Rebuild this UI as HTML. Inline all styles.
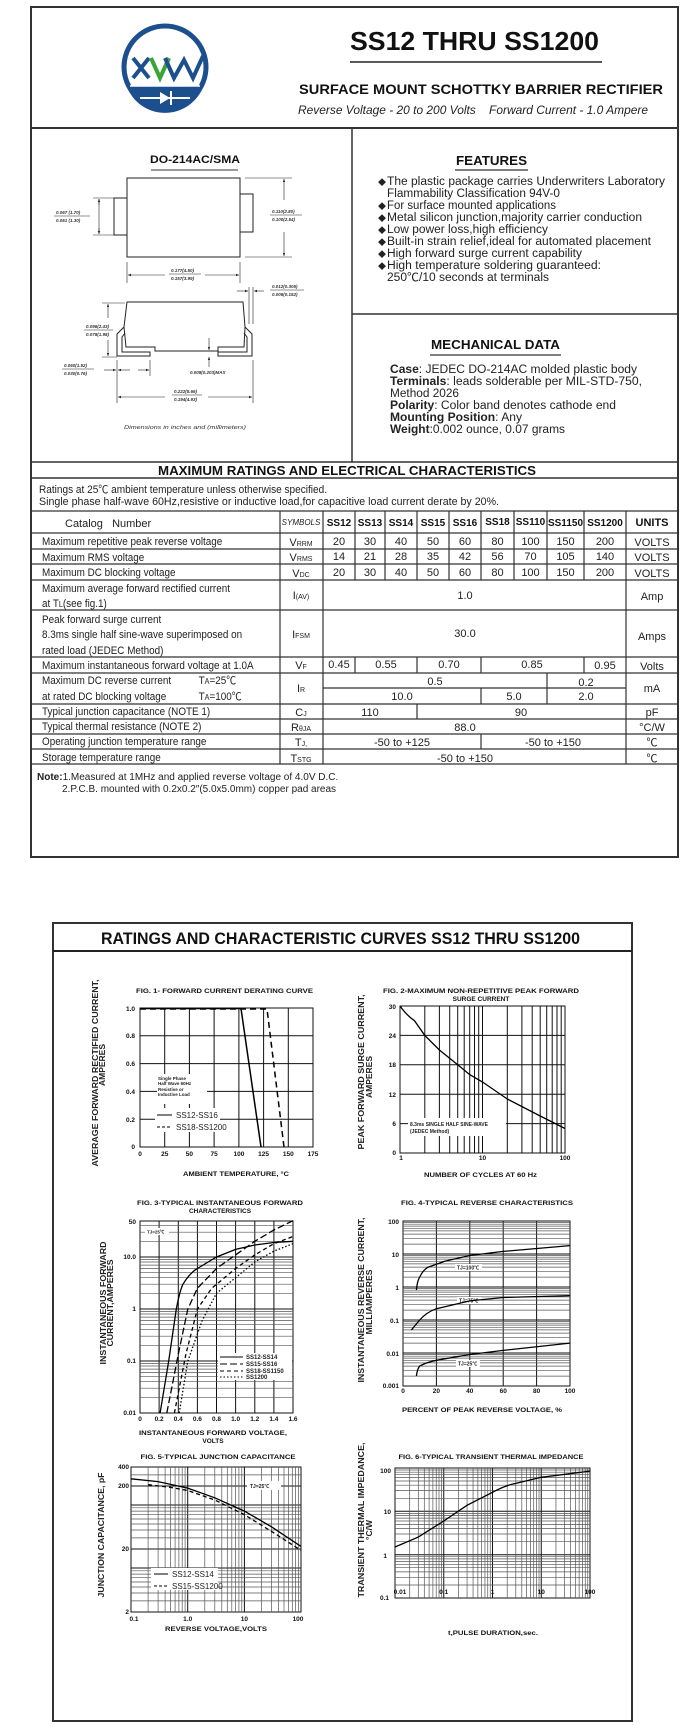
<!DOCTYPE html>
<html><head><meta charset="utf-8"><style>
html,body{margin:0;padding:0;background:#fff;}
svg{display:block;font-family:"Liberation Sans","Noto Sans CJK SC",sans-serif;}
.b{font-weight:bold;}
.t{font-size:6.5px;font-weight:bold;fill:#111;}
.g{stroke:#111;stroke-width:1;fill:none;}
.m{stroke:#555;stroke-width:0.7;fill:none;}
.c{stroke:#000;stroke-width:1.3;fill:none;}
.ln{stroke:#222;stroke-width:1;fill:none;}
.thin{stroke:#222;stroke-width:0.6;fill:none;}
.dim{font-size:4.5px;font-style:italic;font-weight:bold;fill:#333;}
</style></head><body>
<svg width="694" height="1736" viewBox="0 0 694 1736" xmlns="http://www.w3.org/2000/svg">
<defs>
<marker id="ar" markerWidth="6" markerHeight="6" refX="5" refY="3" orient="auto"><path d="M0,1 L5,3 L0,5 Z" fill="#222"/></marker>
</defs>
<rect x="0" y="0" width="694" height="1736" fill="#fff"/>

<!-- ============ PAGE 1 ============ -->
<rect x="31" y="7" width="647" height="850" fill="none" stroke="#333" stroke-width="2"/>
<line x1="31" y1="128" x2="678" y2="128" stroke="#333" stroke-width="2"/>
<line x1="352" y1="128" x2="352" y2="462" stroke="#333" stroke-width="1.5"/>
<line x1="352" y1="314" x2="678" y2="314" stroke="#333" stroke-width="1.5"/>
<line x1="31" y1="462" x2="678" y2="462" stroke="#333" stroke-width="1.5"/>
<line x1="31" y1="478" x2="678" y2="478" stroke="#333" stroke-width="1.5"/>

<!-- logo -->
<circle cx="165" cy="67" r="41" fill="#fff" stroke="#1c4f8e" stroke-width="5"/>
<path d="M126.5,86 L203.5,86 A41,41 0 0 1 126.5,86 Z" fill="#1c4f8e"/>
<line x1="130" y1="86" x2="200" y2="86" stroke="#fff" stroke-width="1.5"/>
<line x1="140" y1="98" x2="190" y2="98" stroke="#fff" stroke-width="2"/>
<path d="M160,92 L160,104 L170,98 Z" fill="#fff"/>
<line x1="171" y1="91" x2="171" y2="105" stroke="#fff" stroke-width="2"/>
<path d="M133,58 L149,78 M149,58 L133,78" stroke="#1c4f8e" stroke-width="4" fill="none"/>
<path d="M151,58 L160,78 L169,58" stroke="#3aa535" stroke-width="4" fill="none"/>
<path d="M165,58 L174,78 L184,60 L193,78 L203,56" stroke="#1c4f8e" stroke-width="4" fill="none"/>

<text x="350" y="50" font-size="26" class="b" fill="#111" textLength="249" lengthAdjust="spacingAndGlyphs">SS12 THRU SS1200</text>
<line x1="350" y1="62" x2="602" y2="62" stroke="#222" stroke-width="1.5"/>
<text x="299" y="94" font-size="14" class="b" fill="#111" textLength="364" lengthAdjust="spacingAndGlyphs">SURFACE MOUNT SCHOTTKY BARRIER RECTIFIER</text>
<text x="298" y="114" font-size="11.5" font-style="italic" fill="#222" textLength="350" lengthAdjust="spacingAndGlyphs">Reverse Voltage - 20 to 200 Volts&#160;&#160;&#160;&#160;Forward Current - 1.0 Ampere</text>

<!-- package -->
<text x="150" y="163" font-size="11" class="b" fill="#111" textLength="90" lengthAdjust="spacingAndGlyphs">DO-214AC/SMA</text>
<line x1="151" y1="170" x2="238" y2="170" stroke="#333" stroke-width="1"/>
<rect x="127" y="178" width="113" height="79" class="ln"/>
<rect x="114" y="198" width="13" height="37" class="ln"/>
<rect x="240" y="194" width="13" height="38" class="ln"/>
<path d="M93,198 H114 M93,235 H114" class="thin"/>
<line x1="99" y1="205" x2="99" y2="199" class="thin" marker-end="url(#ar)"/>
<line x1="99" y1="228" x2="99" y2="234" class="thin" marker-end="url(#ar)"/>
<line x1="99" y1="199" x2="99" y2="234" class="thin"/>
<text x="56" y="214" class="dim">0.067 (1.70)</text><line x1="54" y1="216" x2="90" y2="216" class="thin"/><text x="56" y="222" class="dim">0.051 (1.30)</text>
<path d="M245,178 H292 M245,257 H292" class="thin"/>
<line x1="284" y1="200" x2="284" y2="179" class="thin" marker-end="url(#ar)"/>
<line x1="284" y1="232" x2="284" y2="256" class="thin" marker-end="url(#ar)"/>
<text x="272" y="213" class="dim">0.110(2.80)</text><line x1="270" y1="215" x2="302" y2="215" class="thin"/><text x="272" y="221" class="dim">0.100(2.54)</text>
<path d="M127,262 V283 M240,262 V283" class="thin"/>
<line x1="165" y1="275" x2="128" y2="275" class="thin" marker-end="url(#ar)"/>
<line x1="205" y1="275" x2="239" y2="275" class="thin" marker-end="url(#ar)"/>
<text x="171" y="272" class="dim">0.177(4.50)</text><line x1="169" y1="274" x2="201" y2="274" class="thin"/><text x="171" y="280" class="dim">0.157(3.99)</text>

<path d="M127,302 L243,302 L245,327 L244,347 L218,347 L218,351 L155,351 L155,347 L126,347 L124,327 Z" class="ln"/>
<path d="M124,327 L117,334 L117,356 L150,356 L150,352 L122,352 L122,337 L125,333" class="ln"/>
<path d="M245,327 L252,334 L252,356 L218,356 L218,352 L247,352 L247,337 L244,333" class="ln"/>
<path d="M102,303 H125 M102,357 H117" class="thin"/>
<line x1="108" y1="318" x2="108" y2="304" class="thin" marker-end="url(#ar)"/>
<line x1="108" y1="340" x2="108" y2="356" class="thin" marker-end="url(#ar)"/>
<text x="86" y="328" class="dim">0.096(2.43)</text><line x1="84" y1="330" x2="113" y2="330" class="thin"/><text x="86" y="336" class="dim">0.078(1.98)</text>
<path d="M249,287 V324 M253,287 V324" class="thin"/>
<line x1="237" y1="291" x2="248" y2="291" class="thin" marker-end="url(#ar)"/>
<line x1="264" y1="291" x2="254" y2="291" class="thin" marker-end="url(#ar)"/>
<text x="272" y="288" class="dim">0.012(0.305)</text><line x1="270" y1="290" x2="304" y2="290" class="thin"/><text x="272" y="296" class="dim">0.006(0.152)</text>
<text x="64" y="367" class="dim">0.060(1.52)</text><line x1="62" y1="369" x2="94" y2="369" class="thin"/><text x="64" y="375" class="dim">0.030(0.76)</text>
<line x1="104" y1="370" x2="116" y2="370" class="thin" marker-end="url(#ar)"/>
<line x1="150" y1="360" x2="150" y2="376" class="thin"/>
<line x1="130" y1="370" x2="118" y2="370" class="thin" marker-end="url(#ar)"/>
<line x1="138" y1="370" x2="149" y2="370" class="thin" marker-end="url(#ar)"/>
<line x1="209" y1="338" x2="209" y2="350" class="thin" marker-end="url(#ar)"/>
<line x1="209" y1="367" x2="209" y2="357" class="thin" marker-end="url(#ar)"/>
<text x="190" y="374" class="dim">0.008(0.203)MAX</text>
<path d="M117,360 V403 M253,360 V403" class="thin"/>
<line x1="165" y1="397" x2="118" y2="397" class="thin" marker-end="url(#ar)"/>
<line x1="208" y1="397" x2="252" y2="397" class="thin" marker-end="url(#ar)"/>
<text x="174" y="393" class="dim">0.222(5.66)</text><line x1="172" y1="395" x2="202" y2="395" class="thin"/><text x="174" y="401" class="dim">0.194(4.93)</text>
<text x="124" y="429" font-size="5.5" font-style="italic" fill="#333" textLength="122" lengthAdjust="spacingAndGlyphs">Dimensions in inches and (millimeters)</text>

<!-- features -->
<text x="456" y="165" font-size="13" class="b" fill="#111" textLength="71" lengthAdjust="spacingAndGlyphs">FEATURES</text>
<line x1="455" y1="170" x2="528" y2="170" stroke="#333" stroke-width="1.2"/>
<g font-size="11.5" fill="#222">
<text x="378" y="185" font-size="8">◆</text><text x="387" y="185" textLength="278" lengthAdjust="spacingAndGlyphs">The plastic package carries Underwriters Laboratory</text>
<text x="387" y="197" textLength="173" lengthAdjust="spacingAndGlyphs">Flammability Classification 94V-0</text>
<text x="378" y="209" font-size="8">◆</text><text x="387" y="209" textLength="169" lengthAdjust="spacingAndGlyphs">For surface mounted applications</text>
<text x="378" y="221" font-size="8">◆</text><text x="387" y="221" textLength="255" lengthAdjust="spacingAndGlyphs">Metal silicon junction,majority carrier conduction</text>
<text x="378" y="233" font-size="8">◆</text><text x="387" y="233" textLength="161" lengthAdjust="spacingAndGlyphs">Low power loss,high efficiency</text>
<text x="378" y="245" font-size="8">◆</text><text x="387" y="245" textLength="264" lengthAdjust="spacingAndGlyphs">Built-in strain relief,ideal for automated placement</text>
<text x="378" y="257" font-size="8">◆</text><text x="387" y="257" textLength="195" lengthAdjust="spacingAndGlyphs">High forward surge current capability</text>
<text x="378" y="269" font-size="8">◆</text><text x="387" y="269" textLength="214" lengthAdjust="spacingAndGlyphs">High temperature soldering guaranteed:</text>
<text x="387" y="281" textLength="162" lengthAdjust="spacingAndGlyphs">250℃/10 seconds at terminals</text>
</g>
<text x="431" y="349" font-size="13" class="b" fill="#111" textLength="129" lengthAdjust="spacingAndGlyphs">MECHANICAL DATA</text>
<line x1="430" y1="355" x2="561" y2="355" stroke="#333" stroke-width="1.2"/>
<g font-size="11.5" fill="#222">
<text x="390" y="373" textLength="247" lengthAdjust="spacingAndGlyphs"><tspan class="b">Case</tspan>: JEDEC DO-214AC molded plastic body</text>
<text x="390" y="385" textLength="252" lengthAdjust="spacingAndGlyphs"><tspan class="b">Terminals</tspan>: leads solderable per MIL-STD-750,</text>
<text x="390" y="397" textLength="69" lengthAdjust="spacingAndGlyphs">Method 2026</text>
<text x="390" y="409" textLength="226" lengthAdjust="spacingAndGlyphs"><tspan class="b">Polarity</tspan>: Color band denotes cathode end</text>
<text x="390" y="421" textLength="132" lengthAdjust="spacingAndGlyphs"><tspan class="b">Mounting Position</tspan>: Any</text>
<text x="390" y="433" textLength="175" lengthAdjust="spacingAndGlyphs"><tspan class="b">Weight</tspan>:0.002 ounce, 0.07 grams</text>
</g>

<!-- ratings -->
<text x="158" y="475" font-size="13" class="b" fill="#111" textLength="378" lengthAdjust="spacingAndGlyphs">MAXIMUM RATINGS AND ELECTRICAL CHARACTERISTICS</text>
<text x="39" y="493" font-size="11" fill="#222" textLength="288" lengthAdjust="spacingAndGlyphs">Ratings at 25℃ ambient temperature unless otherwise specified.</text>
<text x="39" y="505" font-size="11" fill="#222" textLength="460" lengthAdjust="spacingAndGlyphs">Single phase half-wave 60Hz,resistive or inductive load,for capacitive load current derate by 20%.</text>

<!-- table lines -->
<g stroke="#333" stroke-width="1.2" fill="none">
<path d="M31,511 H678 M31,533 H678 M31,549 H678 M31,564 H678 M31,580 H678 M31,610 H678 M31,657 H678 M31,673 H678 M31,704 H678 M31,719 H678 M31,734 H678 M31,749 H678 M31,764 H678"/>
<path d="M323,688 H626"/>
<path d="M280,511 V764 M323,511 V764 M626,511 V764"/>
<path d="M355,511 V580 M385,511 V580 M417,511 V580 M449,511 V580 M481,511 V580 M514,511 V580 M547,511 V580 M584,511 V580"/>
<path d="M355,657 V673 M417,657 V673 M481,657 V673 M584,657 V673"/>
<path d="M547,673 V704 M481,688 V704"/>
<path d="M417,704 V719"/>
<path d="M481,734 V749"/>
</g>
<g font-size="10" class="b" fill="#111" text-anchor="middle">
<text x="339" y="526">SS12</text><text x="370" y="526">SS13</text><text x="401" y="526">SS14</text><text x="433" y="526">SS15</text><text x="465" y="526">SS16</text><text x="497.5" y="525">SS18</text><text x="530.5" y="525">SS110</text><text x="565.5" y="526">SS1150</text><text x="605" y="526">SS1200</text>
<text x="652" y="526" font-size="11">UNITS</text>
</g>
<text x="301" y="525" font-size="8" font-style="italic" fill="#222" text-anchor="middle">SYMBOLS</text>
<text x="65" y="527" font-size="11" fill="#222">Catalog&#160;&#160;&#160;Number</text>
<g fill="#222" font-size="11" transform="translate(42,0) scale(0.9,1)">
<text x="0" y="545">Maximum repetitive peak reverse voltage</text>
<text x="0" y="561">Maximum RMS voltage</text>
<text x="0" y="576">Maximum DC blocking voltage</text>
<text x="0" y="592">Maximum average forward rectified current</text>
<text x="0" y="607">at T<tspan font-size="8">L</tspan>(see fig.1)</text>
<text x="0" y="623">Peak forward surge current</text>
<text x="0" y="638">8.3ms single half sine-wave superimposed on</text>
<text x="0" y="654">rated load (JEDEC Method)</text>
<text x="0" y="669">Maximum instantaneous forward voltage at 1.0A</text>
<text x="0" y="684">Maximum DC reverse current</text><text x="174" y="684">T<tspan font-size="8">A</tspan>=25℃</text>
<text x="0" y="700">at rated DC blocking voltage</text><text x="174" y="700">T<tspan font-size="8">A</tspan>=100℃</text>
<text x="0" y="715">Typical junction capacitance (NOTE 1)</text>
<text x="0" y="730">Typical thermal resistance (NOTE 2)</text>
<text x="0" y="745">Operating junction temperature range</text>
<text x="0" y="761">Storage temperature range</text>
</g>
<g fill="#222" font-size="11" text-anchor="middle">
<text x="301" y="546">V<tspan font-size="7">RRM</tspan></text>
<text x="301" y="561">V<tspan font-size="7">RMS</tspan></text>
<text x="301" y="577">V<tspan font-size="7">DC</tspan></text>
<text x="301" y="599">I<tspan font-size="7">(AV)</tspan></text>
<text x="301" y="638">I<tspan font-size="7">FSM</tspan></text>
<text x="301" y="669">V<tspan font-size="7">F</tspan></text>
<text x="301" y="692">I<tspan font-size="7">R</tspan></text>
<text x="301" y="716">C<tspan font-size="7">J</tspan></text>
<text x="301" y="731">R<tspan font-size="7">θJA</tspan></text>
<text x="301" y="746">T<tspan font-size="7">J,</tspan></text>
<text x="301" y="762">T<tspan font-size="7">STG</tspan></text>
<text x="339" y="545">20</text><text x="370" y="545">30</text><text x="401" y="545">40</text><text x="433" y="545">50</text><text x="465" y="545">60</text><text x="497.5" y="545">80</text><text x="530.5" y="545">100</text><text x="565.5" y="545">150</text><text x="605" y="545">200</text><text x="652" y="546">VOLTS</text>
<text x="339" y="560">14</text><text x="370" y="560">21</text><text x="401" y="560">28</text><text x="433" y="560">35</text><text x="465" y="560">42</text><text x="497.5" y="560">56</text><text x="530.5" y="560">70</text><text x="565.5" y="560">105</text><text x="605" y="560">140</text><text x="652" y="561">VOLTS</text>
<text x="339" y="576">20</text><text x="370" y="576">30</text><text x="401" y="576">40</text><text x="433" y="576">50</text><text x="465" y="576">60</text><text x="497.5" y="576">80</text><text x="530.5" y="576">100</text><text x="565.5" y="576">150</text><text x="605" y="576">200</text><text x="652" y="577">VOLTS</text>
<text x="465" y="599">1.0</text><text x="652" y="600">Amp</text>
<text x="465" y="637">30.0</text><text x="652" y="640">Amps</text>
<text x="339" y="668">0.45</text><text x="386" y="668">0.55</text><text x="449" y="668">0.70</text><text x="532" y="668">0.85</text><text x="605" y="669">0.95</text><text x="652" y="670">Volts</text>
<text x="435" y="685">0.5</text><text x="586" y="686">0.2</text><text x="652" y="692">mA</text>
<text x="402" y="700">10.0</text><text x="514" y="700">5.0</text><text x="586" y="700">2.0</text>
<text x="370" y="716">110</text><text x="521" y="716">90</text><text x="652" y="716">pF</text>
<text x="465" y="731">88.0</text><text x="652" y="731">°C/W</text>
<text x="402" y="746">-50 to +125</text><text x="553" y="746">-50 to +150</text><text x="652" y="746">℃</text>
<text x="465" y="762">-50 to +150</text><text x="652" y="762">℃</text>
</g>
<text x="37" y="780" font-size="10" fill="#222"><tspan class="b">Note:</tspan>1.Measured at 1MHz and applied reverse voltage of 4.0V D.C.</text>
<text x="62" y="792" font-size="10" fill="#222">2.P.C.B. mounted with 0.2x0.2″(5.0x5.0mm) copper pad areas</text>

<!-- ============ PAGE 2 ============ -->
<rect x="53" y="923" width="579" height="798" fill="none" stroke="#333" stroke-width="2"/>
<line x1="53" y1="951" x2="632" y2="951" stroke="#222" stroke-width="2"/>
<text x="101" y="944" font-size="17" class="b" fill="#111" textLength="479" lengthAdjust="spacingAndGlyphs">RATINGS AND CHARACTERISTIC CURVES SS12 THRU SS1200</text>

<!-- FIG 1 -->
<text x="136" y="993" class="t" textLength="177" lengthAdjust="spacingAndGlyphs">FIG. 1- FORWARD CURRENT DERATING CURVE</text>
<rect x="140" y="1008" width="173" height="139" class="g"/>
<path class="g" d="M164.7,1008V1147M189.4,1008V1147M214.1,1008V1147M238.9,1008V1147M263.6,1008V1147M288.3,1008V1147M140,1035.8H313M140,1063.6H313M140,1091.4H313M140,1119.2H313"/>
<rect x="157" y="1074" width="50" height="30" fill="#fff"/>
<g font-size="4.5" font-weight="bold" fill="#222"><text x="158" y="1080">Single Phase</text><text x="158" y="1085">Half Wave 60Hz</text><text x="158" y="1091">Resistive or</text><text x="158" y="1096">Inductive Load</text></g>
<rect x="155" y="1108" width="65" height="24" fill="#fff"/>
<path d="M140,1008.5 H241 L261,1147" stroke="#000" stroke-width="1.5" fill="none"/>
<path d="M140,1009 H267 L284,1147" stroke="#000" stroke-width="1.5" fill="none" stroke-dasharray="6,4"/>
<line x1="157" y1="1115" x2="172" y2="1115" stroke="#000" stroke-width="1"/>
<line x1="157" y1="1127" x2="172" y2="1127" stroke="#000" stroke-width="1" stroke-dasharray="3,2"/>
<g font-size="8" fill="#222"><text x="176" y="1118">SS12-SS16</text><text x="176" y="1130">SS18-SS1200</text></g>
<g class="t" text-anchor="end"><text x="135" y="1011">1.0</text><text x="135" y="1038">0.8</text><text x="135" y="1066">0.6</text><text x="135" y="1094">0.4</text><text x="135" y="1122">0.2</text><text x="135" y="1149">0</text></g>
<g class="t" text-anchor="middle"><text x="140" y="1156">0</text><text x="164.7" y="1156">25</text><text x="189.4" y="1156">50</text><text x="214.1" y="1156">75</text><text x="238.9" y="1156">100</text><text x="263.6" y="1156">125</text><text x="288.3" y="1156">150</text><text x="313" y="1156">175</text></g>
<text x="183" y="1176" class="t" textLength="106" lengthAdjust="spacingAndGlyphs">AMBIENT TEMPERATURE, °C</text>
<text transform="translate(98,1073) rotate(-90)" font-size="8.5" class="b" fill="#222" text-anchor="middle" textLength="187" lengthAdjust="spacingAndGlyphs">AVERAGE FORWARD RECTIFIED CURRENT,</text>
<text transform="translate(105,1065) rotate(-90)" font-size="8.5" class="b" fill="#222" text-anchor="middle">AMPERES</text>

<!-- FIG 2 -->
<text x="481" y="993" class="t" text-anchor="middle" textLength="196" lengthAdjust="spacingAndGlyphs">FIG. 2-MAXIMUM NON-REPETITIVE PEAK FORWARD</text>
<text x="481" y="1001" class="t" text-anchor="middle">SURGE CURRENT</text>
<rect x="400" y="1006" width="165" height="147" class="g"/>
<path class="g" d="M424.8,1006V1153M439.4,1006V1153M449.7,1006V1153M457.7,1006V1153M464.2,1006V1153M469.7,1006V1153M474.5,1006V1153M478.7,1006V1153M482.5,1006V1153M507.3,1006V1153M521.9,1006V1153M532.2,1006V1153M540.2,1006V1153M546.7,1006V1153M552.2,1006V1153M557,1006V1153M561.2,1006V1153M400,1035.4H565M400,1064.8H565M400,1094.2H565M400,1123.6H565"/>
<rect x="408" y="1118" width="98" height="18" fill="#fff"/>
<g font-size="5" font-weight="bold" fill="#222"><text x="410" y="1126">8.3ms SINGLE HALF SINE-WAVE</text><text x="410" y="1133">(JEDEC Method)</text></g>
<path class="c" d="M400,1006 C405,1013 409,1017 414.5,1020.7 L424.8,1035.4 L439.4,1050 L457.7,1064.8 L469.7,1074.6 L482.5,1082 L507.3,1099 L540.2,1116 L565,1128.5"/>
<g class="t" text-anchor="end"><text x="396" y="1009">30</text><text x="396" y="1038">24</text><text x="396" y="1067">18</text><text x="396" y="1097">12</text><text x="396" y="1126">6</text><text x="396" y="1155">0</text></g>
<g class="t" text-anchor="middle"><text x="401" y="1160">1</text><text x="482.5" y="1160">10</text><text x="565" y="1160">100</text></g>
<text x="424" y="1177" class="t" textLength="113" lengthAdjust="spacingAndGlyphs">NUMBER OF CYCLES AT 60 Hz</text>
<text transform="translate(364,1072) rotate(-90)" font-size="8.5" class="b" fill="#222" text-anchor="middle" textLength="155" lengthAdjust="spacingAndGlyphs">PEAK FORWARD SURGE CURRENT,</text>
<text transform="translate(372,1077) rotate(-90)" font-size="8.5" class="b" fill="#222" text-anchor="middle">AMPERES</text>

<!-- FIG 3 -->
<text x="220" y="1205" class="t" text-anchor="middle" textLength="166" lengthAdjust="spacingAndGlyphs">FIG. 3-TYPICAL INSTANTANEOUS FORWARD</text>
<text x="220" y="1213" class="t" text-anchor="middle">CHARACTERISTICS</text>
<rect x="140" y="1221" width="153" height="192" class="g"/>
<path class="g" d="M159.1,1221V1413M178.3,1221V1413M197.4,1221V1413M216.5,1221V1413M235.6,1221V1413M254.8,1221V1413M273.9,1221V1413M140,1361H293M140,1309H293M140,1257H293"/>
<path class="m" d="M140,1397.3H293M140,1388.2H293M140,1381.7H293M140,1376.7H293M140,1372.5H293M140,1369.1H293M140,1366H293M140,1363.4H293M140,1345.3H293M140,1336.2H293M140,1329.7H293M140,1324.7H293M140,1320.5H293M140,1317.1H293M140,1314H293M140,1311.4H293M140,1293.3H293M140,1284.2H293M140,1277.7H293M140,1272.7H293M140,1268.5H293M140,1265.1H293M140,1262H293M140,1259.4H293M140,1241.3H293M140,1232.2H293M140,1225.7H293"/>
<rect x="145" y="1228" width="24" height="7" fill="#fff"/>
<text x="147" y="1233.5" font-size="4.5" font-weight="bold" fill="#222">TJ=25℃</text>
<rect x="218" y="1353" width="74" height="27" fill="#fff"/>
<path class="c" d="M160.1,1413 L168.7,1361 L176.3,1309 C179,1295 181,1288 183,1284.2 C188,1276 193,1271 197.4,1268.5 L216.5,1257 L235.6,1249.4 L254.8,1245 L273.9,1242.5 L293,1241.3"/>
<path class="c" stroke-dasharray="7,3" d="M166.8,1413 L178.3,1354.2 L187.8,1309 L197.4,1288.3 L216.5,1268.5 L235.6,1254.9 L254.8,1241.3 L273.9,1230 L293,1220.7"/>
<path class="c" stroke-dasharray="4,3" d="M174.4,1413 L185.9,1354.2 L197.4,1309 L211.7,1288.3 L235.6,1268.5 L254.8,1254.9 L273.9,1243.7 L293,1236.5"/>
<path class="c" stroke-dasharray="1.5,2" d="M179.2,1413 L187.8,1361 L202.2,1320.5 L216.5,1293.3 L235.6,1277.7 L254.8,1262 L273.9,1251.1 L293,1243.7"/>
<line x1="220" y1="1357" x2="243" y2="1357" stroke="#000"/>
<line x1="220" y1="1364" x2="243" y2="1364" stroke="#000" stroke-dasharray="7,3"/>
<line x1="220" y1="1371" x2="243" y2="1371" stroke="#000" stroke-dasharray="4,3"/>
<line x1="220" y1="1377" x2="243" y2="1377" stroke="#000" stroke-dasharray="1.5,2"/>
<g font-size="6" fill="#222" font-weight="bold"><text x="246" y="1359">SS12-SS14</text><text x="246" y="1366">SS15-SS16</text><text x="246" y="1373">SS18-SS1150</text><text x="246" y="1379">SS1200</text></g>
<g class="t" text-anchor="end"><text x="136" y="1224">50</text><text x="136" y="1259">10.0</text><text x="136" y="1311">1</text><text x="136" y="1363">0.1</text><text x="136" y="1415">0.01</text></g>
<g class="t" text-anchor="middle"><text x="140" y="1421">0</text><text x="159.1" y="1421">0.2</text><text x="178.3" y="1421">0.4</text><text x="197.4" y="1421">0.6</text><text x="216.5" y="1421">0.8</text><text x="235.6" y="1421">1.0</text><text x="254.8" y="1421">1.2</text><text x="273.9" y="1421">1.4</text><text x="293" y="1421">1.6</text></g>
<text x="213" y="1435" class="t" text-anchor="middle" textLength="148" lengthAdjust="spacingAndGlyphs">INSTANTANEOUS FORWARD VOLTAGE,</text>
<text x="213" y="1443" class="t" text-anchor="middle">VOLTS</text>
<text transform="translate(106,1303) rotate(-90)" font-size="8.5" class="b" fill="#222" text-anchor="middle" textLength="123" lengthAdjust="spacingAndGlyphs">INSTANTANEOUS FORWARD</text>
<text transform="translate(113,1303) rotate(-90)" font-size="8.5" class="b" fill="#222" text-anchor="middle" textLength="87" lengthAdjust="spacingAndGlyphs">CURRENT,AMPERES</text>

<!-- FIG 4 -->
<text x="487" y="1205" class="t" text-anchor="middle" textLength="172" lengthAdjust="spacingAndGlyphs">FIG. 4-TYPICAL REVERSE CHARACTERISTICS</text>
<rect x="403" y="1221" width="167" height="165" class="g"/>
<path class="g" d="M436.4,1221V1386M469.8,1221V1386M503.2,1221V1386M536.6,1221V1386M403,1353H570M403,1320H570M403,1287H570M403,1254H570"/>
<path class="m" d="M403,1376.1H570M403,1370.3H570M403,1366.1H570M403,1362.9H570M403,1360.3H570M403,1358.1H570M403,1356.2H570M403,1354.5H570M403,1343.1H570M403,1337.3H570M403,1333.1H570M403,1329.9H570M403,1327.3H570M403,1325.1H570M403,1323.2H570M403,1321.5H570M403,1310.1H570M403,1304.3H570M403,1300.1H570M403,1296.9H570M403,1294.3H570M403,1292.1H570M403,1290.2H570M403,1288.5H570M403,1277.1H570M403,1271.3H570M403,1267.1H570M403,1263.9H570M403,1261.3H570M403,1259.1H570M403,1257.2H570M403,1255.5H570M403,1244.1H570M403,1238.3H570M403,1234.1H570M403,1230.9H570M403,1228.3H570M403,1226.1H570M403,1224.2H570M403,1222.5H570"/>
<rect x="455" y="1264" width="27" height="7" fill="#fff"/><text x="457" y="1269.5" font-size="5" font-weight="bold" fill="#222">TJ=100℃</text>
<rect x="457" y="1297" width="24" height="7" fill="#fff"/><text x="459" y="1302.5" font-size="5" font-weight="bold" fill="#222">TJ=75℃</text>
<rect x="456" y="1360" width="24" height="7" fill="#fff"/><text x="458" y="1365.5" font-size="5" font-weight="bold" fill="#222">TJ=25℃</text>
<path class="c" d="M416.4,1290.2 C417,1283 418,1280 419.7,1277.1 C422,1272 425,1269 428,1267.2 L444.8,1261.3 L469.8,1255.5 L503.2,1251.4 L570,1245.6"/>
<path class="c" d="M411.4,1329.9 L419.7,1320 C425,1314 430,1311 436.4,1308.7 L469.8,1300.9 L503.2,1297.5 L570,1295.6"/>
<path class="c" d="M416.4,1376.1 C417,1371 418,1368 419.7,1366.1 C425,1363 430,1361.5 436.4,1360.3 L469.8,1354.5 L503.2,1350.4 L570,1343.1"/>
<g class="t" text-anchor="end"><text x="399" y="1224">100</text><text x="399" y="1257">10</text><text x="399" y="1290">1</text><text x="399" y="1323">0.1</text><text x="399" y="1356">0.01</text><text x="399" y="1388">0.001</text></g>
<g class="t" text-anchor="middle"><text x="403" y="1393">0</text><text x="436.4" y="1393">20</text><text x="469.8" y="1393">40</text><text x="503.2" y="1393">60</text><text x="536.6" y="1393">80</text><text x="570" y="1393">100</text></g>
<text x="402" y="1412" class="t" textLength="160" lengthAdjust="spacingAndGlyphs">PERCENT OF PEAK REVERSE VOLTAGE, %</text>
<text transform="translate(364,1300) rotate(-90)" font-size="8.5" class="b" fill="#222" text-anchor="middle" textLength="165" lengthAdjust="spacingAndGlyphs">INSTANTANEOUS REVERSE CURRENT,</text>
<text transform="translate(372,1302) rotate(-90)" font-size="8.5" class="b" fill="#222" text-anchor="middle" textLength="65" lengthAdjust="spacingAndGlyphs">MILLIAMPERES</text>

<!-- FIG 5 -->
<text x="218" y="1459" class="t" text-anchor="middle" textLength="155" lengthAdjust="spacingAndGlyphs">FIG. 5-TYPICAL JUNCTION CAPACITANCE</text>
<rect x="131" y="1467" width="170" height="145" class="g"/>
<path class="g" d="M187.7,1467V1612M244.4,1467V1612M131,1549H301M131,1486H301M131,1568H301M131,1505H301"/>
<path class="m" d="M148.1,1467V1612M158.1,1467V1612M165.1,1467V1612M170.6,1467V1612M175.1,1467V1612M178.9,1467V1612M182.2,1467V1612M185.1,1467V1612M204.8,1467V1612M214.8,1467V1612M221.8,1467V1612M227.3,1467V1612M231.8,1467V1612M235.6,1467V1612M238.9,1467V1612M241.8,1467V1612M261.5,1467V1612M271.5,1467V1612M278.5,1467V1612M284,1467V1612M288.5,1467V1612M292.3,1467V1612M295.6,1467V1612M298.5,1467V1612"/>
<path class="m" d="M131,1600.9H301M131,1593H301M131,1587H301M131,1582H301M131,1577.7H301M131,1574.1H301M131,1570.8H301M131,1537.9H301M131,1530H301M131,1524H301M131,1519H301M131,1514.7H301M131,1511.1H301M131,1507.8H301M131,1474.9H301"/>
<rect x="247" y="1481" width="34" height="9" fill="#fff"/><text x="250" y="1488" font-size="5" font-weight="bold" fill="#222">TJ=25℃</text>
<rect x="151" y="1568" width="67" height="22" fill="#fff"/>
<path class="c" d="M131,1478.8 L158.1,1481.6 L187.7,1488.1 L214.8,1497.8 L244.4,1511.1 L271.5,1526.8 L301,1546.4"/>
<path class="c" stroke-dasharray="4,3" d="M148.1,1484.7 L170.6,1487.4 L187.7,1490.5 L214.8,1500 L244.4,1514.7 L271.5,1531.4 L301,1550.4"/>
<line x1="154" y1="1574" x2="168" y2="1574" stroke="#000"/>
<line x1="154" y1="1586" x2="168" y2="1586" stroke="#000" stroke-dasharray="3,2"/>
<g font-size="8" fill="#222"><text x="172" y="1577">SS12-SS14</text><text x="172" y="1589">SS15-SS1200</text></g>
<g class="t" text-anchor="end"><text x="129" y="1469">400</text><text x="129" y="1488">200</text><text x="129" y="1551">20</text><text x="129" y="1614">2</text></g>
<g class="t" text-anchor="middle"><text x="134" y="1621">0.1</text><text x="187.7" y="1621">1.0</text><text x="244.4" y="1621">10</text><text x="298" y="1621">100</text></g>
<text x="216" y="1631" class="t" text-anchor="middle" textLength="102" lengthAdjust="spacingAndGlyphs">REVERSE VOLTAGE,VOLTS</text>
<text transform="translate(104,1535) rotate(-90)" font-size="8.5" class="b" fill="#222" text-anchor="middle" textLength="125" lengthAdjust="spacingAndGlyphs">JUNCTION CAPACITANCE, pF</text>

<!-- FIG 6 -->
<text x="491" y="1459" class="t" text-anchor="middle" textLength="185" lengthAdjust="spacingAndGlyphs">FIG. 6-TYPICAL TRANSIENT THERMAL IMPEDANCE</text>
<rect x="395" y="1468" width="195" height="130" class="g"/>
<path class="g" d="M443.75,1468V1598M492.5,1468V1598M541.25,1468V1598M395,1554.7H590M395,1511.3H590"/>
<path class="m" d="M409.7,1468V1598M418.3,1468V1598M424.3,1468V1598M429.1,1468V1598M432.9,1468V1598M436.2,1468V1598M439,1468V1598M441.5,1468V1598M458.45,1468V1598M467.05,1468V1598M473.05,1468V1598M477.85,1468V1598M481.65,1468V1598M484.95,1468V1598M487.75,1468V1598M490.25,1468V1598M507.2,1468V1598M515.8,1468V1598M521.8,1468V1598M526.6,1468V1598M530.4,1468V1598M533.7,1468V1598M536.5,1468V1598M539,1468V1598M555.95,1468V1598M564.55,1468V1598M570.55,1468V1598M575.35,1468V1598M579.15,1468V1598M582.45,1468V1598M585.25,1468V1598M587.75,1468V1598"/>
<path class="m" d="M395,1585H590M395,1577.3H590M395,1571.9H590M395,1567.7H590M395,1564.3H590M395,1561.4H590M395,1558.9H590M395,1556.7H590M395,1541.7H590M395,1534H590M395,1528.6H590M395,1524.4H590M395,1521H590M395,1518.1H590M395,1515.6H590M395,1513.4H590M395,1498.3H590M395,1490.6H590M395,1485.2H590M395,1481H590M395,1477.6H590M395,1474.7H590M395,1472.2H590M395,1470H590"/>
<path class="c" d="M395,1547 L418.3,1537.1 L443.75,1521 L467,1505.3 L492.5,1492.3 C502,1487 508,1485 515.8,1483.4 L541.25,1477.3 L590,1471.1"/>
<g class="t" text-anchor="middle"><text x="400" y="1594">0.01</text><text x="443.75" y="1594">0.1</text><text x="492.5" y="1594">1</text><text x="541.25" y="1594">10</text><text x="590" y="1594">100</text></g>
<g class="t" text-anchor="end"><text x="391" y="1473">100</text><text x="391" y="1514">10</text><text x="387" y="1558">1</text><text x="389" y="1600">0.1</text></g>
<text x="493" y="1635" class="t" text-anchor="middle" textLength="90" lengthAdjust="spacingAndGlyphs">t,PULSE DURATION,sec.</text>
<text transform="translate(364,1520) rotate(-90)" font-size="8.5" class="b" fill="#222" text-anchor="middle" textLength="155" lengthAdjust="spacingAndGlyphs">TRANSIENT THERMAL IMPEDANCE,</text>
<text transform="translate(372,1530) rotate(-90)" font-size="8.5" class="b" fill="#222" text-anchor="middle">°C/W</text>
</svg>
</body></html>
